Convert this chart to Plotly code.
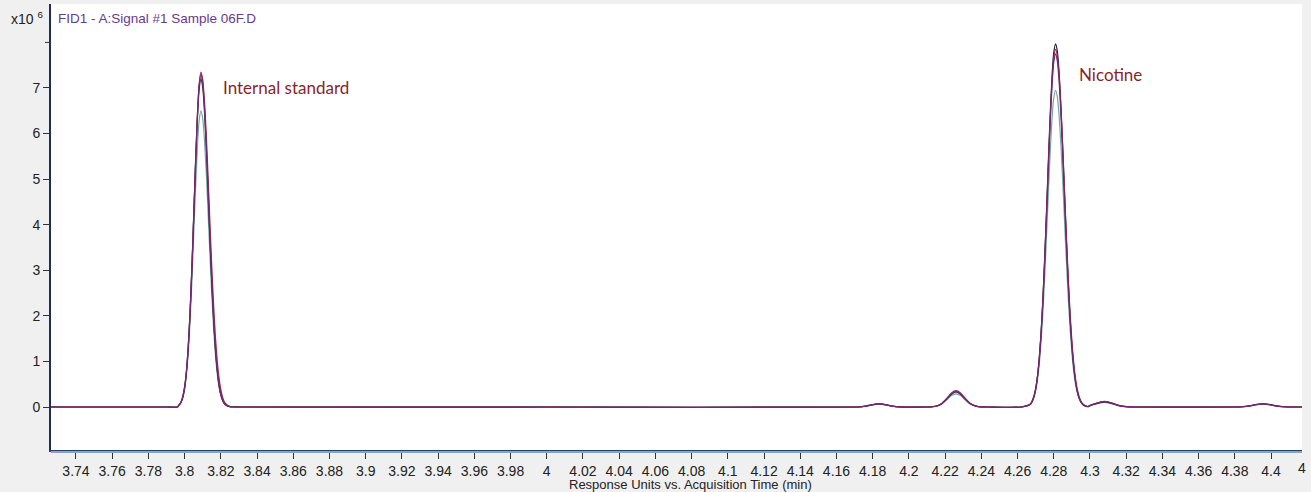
import plotly.graph_objects as go

# Acquisition time (min), shared by all four overlaid FID runs
time_min = [
    3.7262, 3.76, 3.79, 3.796,
    3.797, 3.798, 3.799, 3.800, 3.801, 3.802, 3.803, 3.804, 3.805, 3.806,
    3.807, 3.808, 3.809, 3.810, 3.811, 3.812, 3.813, 3.814, 3.815, 3.816,
    3.817, 3.818, 3.819, 3.820, 3.821, 3.822, 3.823, 3.824, 3.825,
    3.83, 4.0, 4.172,
    4.176, 4.179, 4.1815, 4.1835, 4.1855, 4.188, 4.191,
    4.195, 4.21,
    4.212, 4.215, 4.218, 4.221, 4.2235, 4.226, 4.2285, 4.231, 4.234, 4.237, 4.240,
    4.244, 4.262,
    4.267, 4.268, 4.269, 4.270, 4.271, 4.272, 4.273, 4.274, 4.275, 4.276,
    4.277, 4.278, 4.279, 4.280, 4.281, 4.282, 4.283, 4.284, 4.285, 4.286,
    4.287, 4.288, 4.289, 4.290, 4.291, 4.292, 4.293, 4.294, 4.295, 4.296,
    4.297, 4.298, 4.299,
    4.300, 4.303, 4.306, 4.308, 4.310, 4.313, 4.316, 4.320,
    4.325, 4.38,
    4.384, 4.388, 4.392, 4.3955, 4.399, 4.403, 4.407,
    4.411, 4.4171,
]

# Response (x10^6) for each run
signal_teal = [
    0, 0, 0, 0,
    0.04, 0.10, 0.20, 0.39, 0.71, 1.19, 1.87, 2.74, 3.74, 4.76, 5.66, 6.28,
    6.50,
    6.32, 5.83, 5.10, 4.22, 3.31, 2.46, 1.73, 1.15, 0.73, 0.43, 0.25, 0.13, 0.07, 0.03, 0.01, 0.01,
    0, 0, 0,
    0.015, 0.036, 0.053, 0.06, 0.053, 0.036, 0.015,
    0.003, 0,
    0.002, 0.015, 0.06, 0.157, 0.25, 0.29, 0.25, 0.157, 0.06, 0.017, 0.002,
    0, 0,
    0.05, 0.10, 0.20, 0.35, 0.59, 0.94, 1.43, 2.07, 2.86, 3.75, 4.68, 5.57, 6.30, 6.78,
    6.95,
    6.80, 6.37, 5.72, 4.91, 4.04, 3.18, 2.40, 1.73, 1.20, 0.79, 0.50, 0.31, 0.18, 0.10, 0.05, 0.03, 0.01, 0.01,
    0.026, 0.06, 0.09, 0.10, 0.09, 0.06, 0.026, 0.005,
    0, 0,
    0.004, 0.019, 0.047, 0.06, 0.047, 0.019, 0.004,
    0, 0,
]

signal_dark = [
    0, 0, 0, 0,
    0.05, 0.11, 0.23, 0.44, 0.78, 1.32, 2.07, 3.03, 4.14, 5.27, 6.27, 6.96,
    7.20,
    7.01, 6.46, 5.64, 4.67, 3.66, 2.72, 1.92, 1.27, 0.81, 0.48, 0.27, 0.15, 0.07, 0.04, 0.02, 0.01,
    0, 0, 0,
    0.018, 0.043, 0.063, 0.07, 0.063, 0.043, 0.018,
    0.003, 0,
    0.003, 0.017, 0.068, 0.18, 0.28, 0.33, 0.28, 0.18, 0.07, 0.02, 0.003,
    0, 0,
    0.06, 0.12, 0.23, 0.40, 0.68, 1.08, 1.64, 2.38, 3.28, 4.30, 5.37, 6.38, 7.22, 7.78,
    7.97,
    7.80, 7.31, 6.56, 5.63, 4.63, 3.65, 2.75, 1.98, 1.37, 0.91, 0.58, 0.35, 0.20, 0.11, 0.06, 0.03, 0.02, 0.01,
    0.03, 0.067, 0.10, 0.11, 0.10, 0.067, 0.03, 0.006,
    0, 0,
    0.005, 0.023, 0.055, 0.07, 0.055, 0.023, 0.005,
    0, 0,
]

signal_red = [
    0, 0, 0, 0,
    0.04, 0.10, 0.21, 0.41, 0.76, 1.29, 2.04, 3.01, 4.14, 5.30, 6.34, 7.07,
    7.35,
    7.18, 6.68, 5.93, 5.00, 4.02, 3.07, 2.24, 1.54, 1.02, 0.64, 0.38, 0.21, 0.11, 0.06, 0.03, 0.01,
    0, 0, 0,
    0.017, 0.04, 0.06, 0.068, 0.06, 0.04, 0.017,
    0.003, 0,
    0.003, 0.018, 0.074, 0.195, 0.31, 0.36, 0.31, 0.195, 0.076, 0.021, 0.003,
    0, 0,
    0.06, 0.12, 0.22, 0.40, 0.66, 1.06, 1.62, 2.34, 3.23, 4.23, 5.29, 6.29, 7.11, 7.66,
    7.85,
    7.70, 7.25, 6.55, 5.66, 4.70, 3.74, 2.85, 2.08, 1.46, 0.98, 0.63, 0.39, 0.23, 0.13, 0.07, 0.04, 0.02, 0.01,
    0.035, 0.075, 0.115, 0.125, 0.115, 0.075, 0.035, 0.008,
    0, 0,
    0.005, 0.022, 0.052, 0.066, 0.052, 0.022, 0.005,
    0, 0,
]

signal_purple = [
    0, 0, 0, 0,
    0.05, 0.11, 0.23, 0.44, 0.80, 1.34, 2.10, 3.07, 4.20, 5.34, 6.36, 7.05,
    7.30,
    7.10, 6.55, 5.72, 4.74, 3.72, 2.76, 1.94, 1.29, 0.82, 0.49, 0.28, 0.15, 0.08, 0.04, 0.02, 0.01,
    0, 0, 0,
    0.02, 0.045, 0.066, 0.075, 0.066, 0.045, 0.02,
    0.003, 0,
    0.003, 0.017, 0.07, 0.185, 0.29, 0.34, 0.29, 0.185, 0.072, 0.02, 0.003,
    0, 0,
    0.06, 0.12, 0.22, 0.39, 0.66, 1.05, 1.60, 2.31, 3.19, 4.18, 5.22, 6.21, 7.02, 7.56,
    7.75,
    7.58, 7.11, 6.38, 5.48, 4.50, 3.55, 2.67, 1.93, 1.33, 0.88, 0.56, 0.34, 0.20, 0.11, 0.06, 0.03, 0.01, 0.01,
    0.033, 0.073, 0.11, 0.12, 0.11, 0.073, 0.033, 0.007,
    0, 0,
    0.006, 0.025, 0.06, 0.075, 0.06, 0.025, 0.006,
    0, 0,
]

x_tick_labels = [
    "3.74", "3.76", "3.78", "3.8", "3.82", "3.84", "3.86", "3.88", "3.9", "3.92",
    "3.94", "3.96", "3.98", "4", "4.02", "4.04", "4.06", "4.08", "4.1", "4.12",
    "4.14", "4.16", "4.18", "4.2", "4.22", "4.24", "4.26", "4.28", "4.3", "4.32",
    "4.34", "4.36", "4.38", "4.4",
]
y_tick_labels = ["0", "1", "2", "3", "4", "5", "6", "7"]
y_unlabelled_tick = 8

peak_names = ["Internal standard", "Nicotine"]
peak_label_x = [3.8200, 4.2928]
peak_label_y = [7.02, 7.29]

SANS = "Liberation Sans, Arial, sans-serif"
INK = "#222222"
BG = "#f0f0f0"

runs = [
    (signal_teal, "#6fa8a2"),
    (signal_dark, "#1e1e3c"),
    (signal_red, "#a0263f"),
    (signal_purple, "#6e2a78"),
]

fig = go.Figure()
for sig, col in runs:
    fig.add_trace(go.Scatter(
        x=time_min, y=sig, mode="lines",
        line=dict(color=col, width=1.2, shape="spline", smoothing=0.6),
        showlegend=False, hoverinfo="skip",
    ))

for name, px, py in zip(peak_names, peak_label_x, peak_label_y):
    fig.add_annotation(
        x=px, y=py, xref="x", yref="y", text=name, showarrow=False,
        xanchor="left", yanchor="middle",
        font=dict(family="Lato, Open Sans, sans-serif", size=17, color="#8b1f2c"),
    )

# signal header and exponent label
fig.add_annotation(
    x=0.004, y=0.9686, xref="paper", yref="paper", showarrow=False,
    text="FID1 - A:Signal #1 Sample 06F.D", xanchor="left", yanchor="middle",
    font=dict(family=SANS, size=13.5, color="#6a3a8c"),
)
fig.add_annotation(
    x=-0.005, y=0.9686, xref="paper", yref="paper", showarrow=False,
    text="x10 <sup>6</sup>", xanchor="right", yanchor="middle",
    font=dict(family=SANS, size=14, color=INK),
)
# axis title
fig.add_annotation(
    x=0.5108, y=-0.077, xref="paper", yref="paper", showarrow=False,
    text="Response Units vs. Acquisition Time (min)", xanchor="center", yanchor="middle",
    font=dict(family=SANS, size=13, color=INK),
)
# partial label at the right edge of the time axis
fig.add_annotation(
    x=0.9952, y=-0.040, xref="paper", yref="paper", showarrow=False,
    text="4", xanchor="left", yanchor="middle",
    font=dict(family=SANS, size=14, color=INK),
)
# second, lighter rule under the time axis
fig.add_shape(
    type="line", xref="paper", yref="paper", x0=0, x1=1, y0=-0.0045, y1=-0.0045,
    line=dict(color="#86a4c6", width=2),
)
# unlabelled top tick on the response axis
fig.add_shape(
    type="line", xref="paper", yref="y", x0=-0.0048, x1=0,
    y0=y_unlabelled_tick, y1=y_unlabelled_tick,
    line=dict(color="#333333", width=1),
)

fig.update_layout(
    width=1311, height=492,
    margin=dict(l=51, r=9, t=4, b=42),
    paper_bgcolor=BG, plot_bgcolor="white",
    font=dict(family=SANS, size=14, color=INK),
)
fig.update_xaxes(
    range=[3.7262, 4.4171],
    tickmode="array", tickvals=[float(s) for s in x_tick_labels], ticktext=x_tick_labels,
    ticks="outside", ticklen=7, tickcolor="#333333", tickwidth=1,
    showline=True, linecolor="#2a3f6e", linewidth=2,
    showgrid=False, zeroline=False,
    tickfont=dict(family=SANS, size=14, color=INK),
)
fig.update_yaxes(
    range=[-0.9436, 8.843],
    tickmode="array", tickvals=[float(s) for s in y_tick_labels], ticktext=y_tick_labels,
    ticks="outside", ticklen=6, tickcolor="#333333", tickwidth=1,
    showline=True, linecolor="#1e2d5e", linewidth=2,
    showgrid=False, zeroline=False,
    tickfont=dict(family=SANS, size=14, color=INK),
)

fig.write_html("out.html")
